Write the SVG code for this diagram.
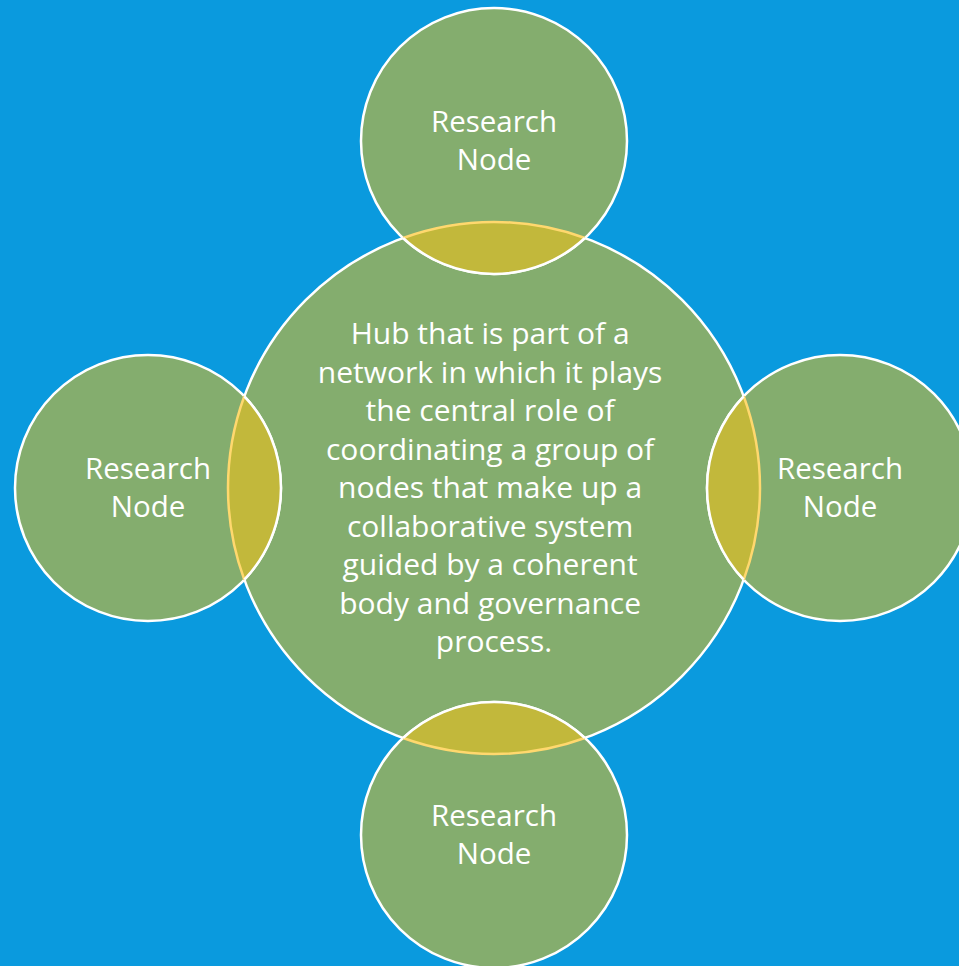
<svg xmlns="http://www.w3.org/2000/svg" width="959" height="966" viewBox="0 0 959 966">
<style>
.c{fill:#84AD6E;stroke:#FFFFFF;stroke-width:2.5}
.lens{fill:#C2B83B;stroke:none}
.ya{fill:none;stroke:#FFD86E;stroke-width:2.5}
.wa{fill:none;stroke:#FFFFFF;stroke-width:2.5}
.t{font-family:"Open Sans","Noto Sans",sans-serif;fill:#FFFFFF;text-anchor:middle}
.hub{font-size:30px}
.rn{font-size:29.5px}
</style>
<rect width="959" height="966" fill="#0A9ADE"/>
<g id="hub">
<circle class="c" cx="494" cy="488" r="266"/>
</g>
<g id="node-top">
<circle class="c" cx="494" cy="141" r="133"/>
</g>
<g id="node-left">
<circle class="c" cx="148" cy="488" r="133"/>
</g>
<g id="node-right">
<circle class="c" cx="840" cy="488" r="133"/>
</g>
<g id="node-bottom">
<circle class="c" cx="494" cy="835" r="133"/>
</g>
<g id="overlaps">
<path class="lens" d="M403.1 238 A266 266 0 0 1 584.9 238 A133 133 0 0 1 403.1 238Z"/>
<path class="ya" d="M403.1 238 A266 266 0 0 1 584.9 238"/>
<path class="wa" d="M584.9 238 A133 133 0 0 1 403.1 238"/>
<path class="lens" d="M244.3 396.3 A266 266 0 0 0 244.3 579.7 A133 133 0 0 0 244.3 396.3Z"/>
<path class="ya" d="M244.3 396.3 A266 266 0 0 0 244.3 579.7"/>
<path class="wa" d="M244.3 579.7 A133 133 0 0 0 244.3 396.3"/>
<path class="lens" d="M743.7 396.3 A266 266 0 0 1 743.7 579.7 A133 133 0 0 1 743.7 396.3Z"/>
<path class="ya" d="M743.7 396.3 A266 266 0 0 1 743.7 579.7"/>
<path class="wa" d="M743.7 579.7 A133 133 0 0 1 743.7 396.3"/>
<path class="lens" d="M403.1 738 A266 266 0 0 0 584.9 738 A133 133 0 0 0 403.1 738Z"/>
<path class="ya" d="M403.1 738 A266 266 0 0 0 584.9 738"/>
<path class="wa" d="M584.9 738 A133 133 0 0 0 403.1 738"/>
</g>
<g id="labels">
<text class="t hub" x="494">
<tspan x="494" y="344">Hub that is part of a</tspan>
<tspan x="494" y="382.5">network in which it plays</tspan>
<tspan x="494" y="421">the central role of</tspan>
<tspan x="494" y="459.5">coordinating a group of</tspan>
<tspan x="494" y="498">nodes that make up a</tspan>
<tspan x="494" y="536.5">collaborative system</tspan>
<tspan x="494" y="575">guided by a coherent</tspan>
<tspan x="494" y="613.5">body and governance</tspan>
<tspan x="494" y="652">process.</tspan>
</text>
<text class="t rn"><tspan x="494" y="132">Research</tspan><tspan x="494" y="170">Node</tspan></text>
<text class="t rn"><tspan x="148" y="479">Research</tspan><tspan x="148" y="517">Node</tspan></text>
<text class="t rn"><tspan x="840" y="479">Research</tspan><tspan x="840" y="517">Node</tspan></text>
<text class="t rn"><tspan x="494" y="826">Research</tspan><tspan x="494" y="864">Node</tspan></text>
</g>
</svg>
